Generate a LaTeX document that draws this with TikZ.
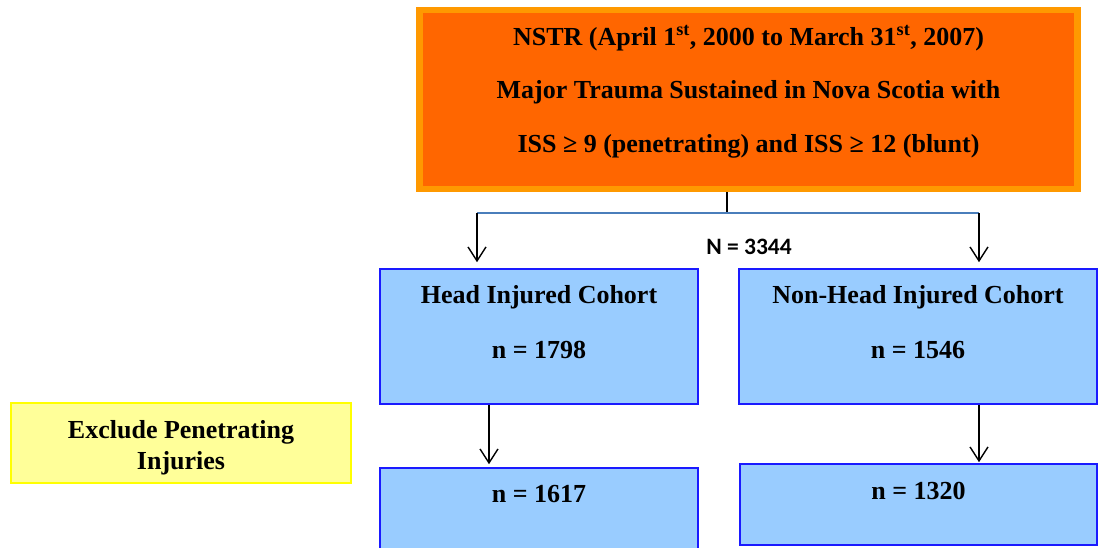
\documentclass[tikz,border=0pt]{standalone}
\usepackage{fontspec}
\setmainfont{Liberation Serif}
\newfontfamily\countfont{Carlito}
\usetikzlibrary{arrows.meta}

\definecolor{registryfill}{HTML}{FF6600}
\definecolor{registryrim}{HTML}{FF9900}
\definecolor{cohortfill}{HTML}{99CCFF}
\definecolor{cohortrim}{HTML}{1A1AFF}
\definecolor{excludefill}{HTML}{FFFF99}
\definecolor{excluderim}{HTML}{FFFF00}
\definecolor{splitline}{HTML}{4A7EBB}

\tikzset{
  registrybox/.style={rectangle, fill=registryfill, draw=registryrim, line width=6.5pt, inner sep=0pt},
  cohortbox/.style={rectangle, fill=cohortfill, draw=cohortrim, line width=1.6pt, inner sep=0pt},
  excludebox/.style={rectangle, fill=excludefill, draw=excluderim, line width=1.6pt, inner sep=0pt},
  boxtext/.style={anchor=base, inner sep=0pt, font=\bfseries\fontsize{26}{31}\selectfont},
  counttext/.style={inner sep=0pt, font=\countfont\bfseries\fontsize{23.5}{28}\selectfont},
  flow/.style={-{Straight Barb[length=14pt,width=18pt,line width=1.4pt]}, line width=1.4pt, black},
}

\begin{document}
\begin{tikzpicture}[x=1pt,y=-1pt]
\useasboundingbox (0,0) rectangle (1098,547);
\clip (0,0) rectangle (1098,547);

% registry box
\node[registrybox, minimum width=658pt, minimum height=179pt] (registry) at (748.5,99.5) {};
\node[boxtext] (reg1) at (748.5,45) {NSTR (April 1\textsuperscript{st}, 2000 to March 31\textsuperscript{st}, 2007)};
\node[boxtext] (reg2) at (748.5,98) {Major Trauma Sustained in Nova Scotia with};
\node[boxtext] (reg3) at (748.5,152) {ISS ≥ 9 (penetrating) and ISS ≥ 12 (blunt)};

% cohort boxes
\node[cohortbox, minimum width=318pt, minimum height=135pt] (head) at (539,336.5) {};
\node[cohortbox, minimum width=358pt, minimum height=135pt] (nonhead) at (918,336.5) {};
\node[boxtext] (headtitle) at (539,303) {Head Injured Cohort};
\node[boxtext] (headn) at (539,358) {n = 1798};
\node[boxtext] (nonheadtitle) at (918,303) {Non-Head Injured Cohort};
\node[boxtext] (nonheadn) at (918,358) {n = 1546};

% cohorts after exclusion
\node[cohortbox, minimum width=318pt, minimum height=100pt] (headblunt) at (539,518) {};
\node[cohortbox, minimum width=357pt, minimum height=81pt] (nonheadblunt) at (918.5,504.5) {};
\node[boxtext] (headbluntn) at (539,502) {n = 1617};
\node[boxtext] (nonheadbluntn) at (918.5,499) {n = 1320};

% exclusion note
\node[excludebox, minimum width=340pt, minimum height=80pt] (exclude) at (181,443) {};
\node[boxtext] (excl1) at (181,438) {Exclude Penetrating};
\node[boxtext] (excl2) at (181,469) {Injuries};

% split of the registry into the two cohorts
\coordinate (split) at (727,213);
\coordinate (splitL) at (477,213);
\coordinate (splitR) at (979,213);
\draw[line width=1.4pt, black] (registry.south -| split) -- (split);
\draw[line width=1.4pt, splitline] (splitL) -- (splitR);
\draw[flow] (splitL) -- ([yshift=6pt]head.north -| splitL);
\draw[flow] (splitR) -- ([yshift=6pt]nonhead.north -| splitR);
\node[counttext] (total) at (749,247) {N = 3344};

% exclusion step
\coordinate (downL) at (489,404);
\coordinate (downR) at (979,404);
\draw[flow] (head.south -| downL) -- ([yshift=3pt]headblunt.north -| downL);
\draw[flow] (nonhead.south -| downR) -- ([yshift=1pt]nonheadblunt.north -| downR);
\end{tikzpicture}
\end{document}
